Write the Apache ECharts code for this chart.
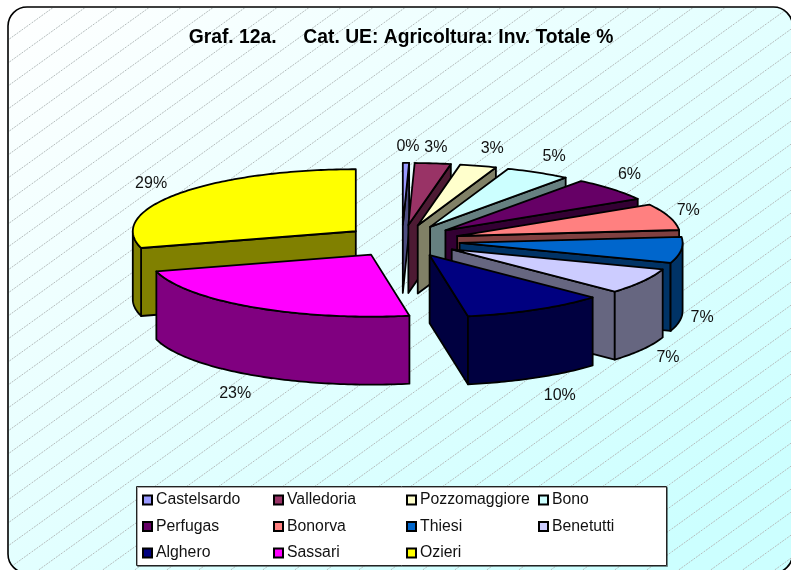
<!DOCTYPE html>
<html>
<head>
<meta charset="utf-8">
<script src="https://cdn.jsdelivr.net/npm/echarts@6/dist/echarts.min.js"></script>
<style>
  html, body { margin: 0; padding: 0; background: #fff; }
  #chart { width: 791px; height: 570px; }
</style>
</head>
<body>
<div id="chart"></div>
<script>
const categories = ["Castelsardo", "Valledoria", "Pozzomaggiore", "Bono", "Perfugas", "Bonorva", "Thiesi", "Benetutti", "Alghero", "Sassari", "Ozieri"];
const shares = [0.45, 2.6, 2.65, 4.7, 6.15, 6.9, 6.8, 6.7, 10.3, 23.4, 29.35];
const topColors = ["#9999FF", "#993366", "#FFFFCC", "#CCFFFF", "#660066", "#FF8080", "#0066CC", "#CCCCFF", "#000080", "#FF00FF", "#FFFF00"];
const sideColors = ["#4D4D80", "#4D1A33", "#808066", "#668080", "#330033", "#804040", "#003366", "#666680", "#000040", "#800080", "#808000"];
const legendColumns = [
  ["Castelsardo", "Perfugas", "Alghero"],
  ["Valledoria", "Bonorva", "Sassari"],
  ["Pozzomaggiore", "Thiesi", "Ozieri"],
  ["Bono", "Benetutti"]
];

// pie geometry
const cx = 402, cy = 241, rx = 223, ry = 62, depth = 68, explode = 0.26;
// label nudge from the outer edge of each slice
const labelNudge = [[2, -16], [3, -16], [14, -17], [16, -16], [17, -15], [19, -6], [21, 0], [25, 8], [24, 18], [-17, 19], [-27, -10]];

const total = shares.reduce((a, b) => a + b, 0);
const rad = (d) => (d * Math.PI) / 180;
let run = 0;
const slices = shares.map((v) => {
  const start = (run / total) * 360;
  run += v;
  const end = (run / total) * 360;
  const mid = (start + end) / 2;
  return {
    start, end, mid,
    ax: cx + explode * rx * Math.sin(rad(mid)),
    ay: cy - explode * ry * Math.cos(rad(mid)),
  };
});
// back slices first
const order = slices.map((s, i) => i).sort((a, b) => Math.cos(rad(slices[b].mid)) - Math.cos(rad(slices[a].mid)));

function rim(s, a, drop) {
  return [s.ax + rx * Math.sin(rad(a)), s.ay - ry * Math.cos(rad(a)) + drop];
}
function arc(s, from, to, drop) {
  const pts = [];
  const n = Math.max(2, Math.ceil(to - from));
  for (let k = 0; k <= n; k++) pts.push(rim(s, from + ((to - from) * k) / n, drop));
  return pts;
}
function poly(points, fill) {
  return {
    type: "polygon",
    shape: { points },
    style: { fill, stroke: "#000", lineWidth: 1.8, lineJoin: "round" },
  };
}

function renderSlice(i) {
  const s = slices[i];
  const side = sideColors[i];
  const kids = [];
  // radial walls that face the viewer
  if (Math.sin(rad(s.start)) < -0.001) {
    const e = rim(s, s.start, 0);
    kids.push(poly([[s.ax, s.ay], e, [e[0], e[1] + depth], [s.ax, s.ay + depth]], side));
  }
  if (Math.sin(rad(s.end)) > 0.001) {
    const e = rim(s, s.end, 0);
    kids.push(poly([[s.ax, s.ay], e, [e[0], e[1] + depth], [s.ax, s.ay + depth]], side));
  }
  // outer wall, front half only
  const from = Math.max(s.start, 90), to = Math.min(s.end, 270);
  if (to > from) {
    kids.push(poly(arc(s, from, to, 0).concat(arc(s, from, to, depth).reverse()), side));
  }
  kids.push(poly([[s.ax, s.ay]].concat(arc(s, s.start, s.end, 0)), topColors[i]));

  const drop = Math.cos(rad(s.mid)) < 0 ? depth : 0;
  const edge = rim(s, s.mid, drop);
  kids.push({
    type: "text",
    style: {
      text: Math.round(shares[i]) + "%",
      x: edge[0] + labelNudge[i][0],
      y: edge[1] + labelNudge[i][1],
      align: "center",
      verticalAlign: "middle",
      font: "16px 'Liberation Sans', Arial, sans-serif",
      fill: "#111",
    },
  });
  return { type: "group", children: kids };
}

// diagonal hatch tile for the plot background
const tile = document.createElement("canvas");
tile.width = 32;
tile.height = 23;
const tc = tile.getContext("2d");
tc.strokeStyle = "#b4bcbc";
tc.lineWidth = 1;
tc.setLineDash([2, 1]);
for (const off of [-32, 0, 32]) {
  tc.beginPath();
  tc.moveTo(off - 0.4, 23);
  tc.lineTo(off + 31.6, 0);
  tc.stroke();
}

const chart = echarts.init(document.getElementById("chart"));

const option = {
  animation: false,
  title: {
    text: "Graf. 12a.     Cat. UE: Agricoltura: Inv. Totale %",
    left: 396,
    top: 23,
    textAlign: "center",
    textStyle: { fontFamily: "Liberation Sans", fontSize: 19.3, fontWeight: "bold", color: "#000" },
  },
  graphic: [
    {
      type: "rect",
      z: -2,
      shape: { x: 8, y: 7, width: 784.5, height: 566, r: 19 },
      style: {
        fill: new echarts.graphic.LinearGradient(8, 7, 542, 751, [
          { offset: 0, color: "#FFFFFF" },
          { offset: 0.9, color: "#CCFFFF" },
          { offset: 1, color: "#CCFFFF" },
        ], true),
        stroke: "#000",
        lineWidth: 1.6,
      },
    },
    {
      type: "rect",
      z: -1,
      shape: { x: 9, y: 8, width: 782.5, height: 564, r: 18 },
      style: { fill: { image: tile, repeat: "repeat" } },
    },
    {
      type: "rect",
      z: 0,
      shape: { x: 136.5, y: 486.5, width: 530, height: 79 },
      style: { fill: "#fff", stroke: "#222", lineWidth: 1, shadowColor: "rgba(0,0,0,0.35)", shadowOffsetX: 1, shadowOffsetY: 1 },
    },
  ],
  legend: legendColumns.map((names, c) => ({
    orient: "vertical",
    left: [142, 273, 406, 538][c],
    top: 492,
    padding: 0,
    itemGap: 10.5,
    itemWidth: 9,
    itemHeight: 9,
    icon: "rect",
    selectedMode: false,
    data: names,
    textStyle: { fontFamily: "Liberation Sans", fontSize: 15.8, color: "#111", padding: [0, 0, 0, -1] },
  })),
  series: categories.map((name, i) => ({
    type: "custom",
    name,
    coordinateSystem: "none",
    z: 2 + order.indexOf(i),
    silent: true,
    itemStyle: { color: topColors[i], borderColor: "#000", borderWidth: 1.5 },
    data: [shares[i]],
    renderItem: () => renderSlice(i),
  })),
};

option && chart.setOption(option);
</script>
</body>
</html>
